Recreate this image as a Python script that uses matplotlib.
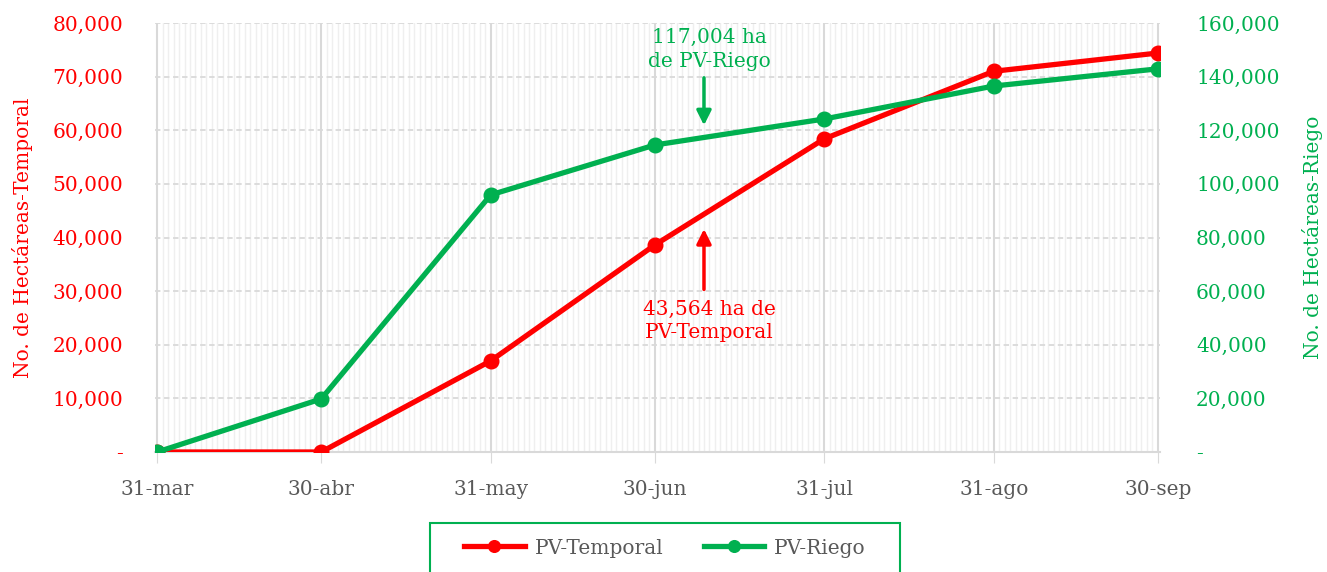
import matplotlib
matplotlib.use("Agg")
import matplotlib.pyplot as plt
import matplotlib.dates as mdates
from matplotlib.patches import Rectangle
import numpy as np
import pandas as pd

# data
fechas = ['2023-03-31', '2023-04-30', '2023-05-31', '2023-06-30',
          '2023-07-31', '2023-08-31', '2023-09-30']
etiquetas = ['31-mar', '30-abr', '31-may', '30-jun', '31-jul', '31-ago', '30-sep']
temporal = [0, 0, 17000, 38600, 58400, 71000, 74400]
riego = [0, 19800, 95900, 114500, 124200, 136500, 142900]

ROJO = '#FF0000'
VERDE = '#00B050'
GRIS = '#595959'

plt.rcParams['font.family'] = ['DejaVu Serif']
plt.rcParams['font.size'] = 14.5

x = pd.to_datetime(fechas)
xn = mdates.date2num(x)

fig = plt.figure(figsize=(13.27, 5.72), dpi=100)
ax = fig.add_axes([155/1327, 1-452/572, 1005/1327, 429/572])
ax2 = ax.twinx()

# grid on the bottom axes
ax.xaxis.set_minor_locator(mdates.DayLocator())
ax.set_xticks(xn)
ax.set_xticklabels(etiquetas, color=GRIS)
ax.grid(axis='x', which='minor', color='#efefef', lw=1)
ax.grid(axis='x', which='major', color='#d9d9d9', lw=1.5)
ax.grid(axis='y', which='major', color='#d9d9d9', lw=1.3, ls=(0, (3, 2)))
ax.set_axisbelow(True)
ax.tick_params(axis='x', which='major', length=8, color='#d9d9d9', pad=12)
ax.tick_params(axis='x', which='minor', length=0)
ax.tick_params(axis='y', length=0, colors=ROJO, pad=23)
ax2.tick_params(axis='y', length=0, colors=VERDE, pad=26)

for s in ['top', 'left', 'right']:
    ax.spines[s].set_visible(False)
    ax2.spines[s].set_visible(False)
ax.spines['bottom'].set_color('#d9d9d9')
ax.spines['bottom'].set_linewidth(1.5)
ax2.spines['bottom'].set_visible(False)

ax.set_xlim(xn[0] - 0.4, xn[-1] + 0.4)
ax.set_ylim(0, 80000)
ax2.set_ylim(0, 160000)
ax.set_yticks(np.arange(0, 80001, 10000))
ax2.set_yticks(np.arange(0, 160001, 20000))
fmt = lambda v, p: '-' if v == 0 else f'{v:,.0f}'
ax.yaxis.set_major_formatter(plt.FuncFormatter(fmt))
ax2.yaxis.set_major_formatter(plt.FuncFormatter(fmt))

ax.set_ylabel('No. de Hectáreas-Temporal', color=ROJO, labelpad=14)
ax2.set_ylabel('No. de Hectáreas-Riego', color=VERDE, labelpad=16)

l1, = ax.plot(xn, temporal, color=ROJO, lw=3.8, marker='o', ms=10.5,
              label='PV-Temporal', zorder=4)
l2, = ax2.plot(xn, riego, color=VERDE, lw=3.8, marker='o', ms=10.5,
               label='PV-Riego', zorder=3)
ax2.patch.set_visible(False)

# annotations
xa = mdates.date2num(pd.Timestamp('2023-07-09'))
xt = mdates.date2num(pd.Timestamp('2023-07-10'))
ax.annotate('', xy=(xa, 60400), xytext=(xa, 70300),
            arrowprops=dict(arrowstyle='-|>,head_width=0.3,head_length=0.6',
                            color=VERDE, lw=2.5))
ax.text(xt, 75100, '117,004 ha\nde PV-Riego', color=VERDE, ha='center',
        va='center', linespacing=1.3)
ax.annotate('', xy=(xa, 42100), xytext=(xa, 29800),
            arrowprops=dict(arrowstyle='-|>,head_width=0.3,head_length=0.6',
                            color=ROJO, lw=2.5))
ax.text(xt, 24400, '43,564 ha de\nPV-Temporal', color=ROJO, ha='center',
        va='center', linespacing=1.3)

# legend
fig.patches.append(Rectangle((430/1327, -0.01), 470/1327, 1-523/572 + 0.01,
                             transform=fig.transFigure, fill=False,
                             edgecolor=VERDE, lw=1.5))
leg = fig.legend(handles=[l1, l2], loc='center', ncol=2, frameon=False,
                 bbox_to_anchor=(665/1327, 1-548/572), handlelength=3.0,
                 columnspacing=2.0, handletextpad=0.5, markerscale=0.8)
for t in leg.get_texts():
    t.set_color(GRIS)

fig.savefig('out.png', dpi=100)
